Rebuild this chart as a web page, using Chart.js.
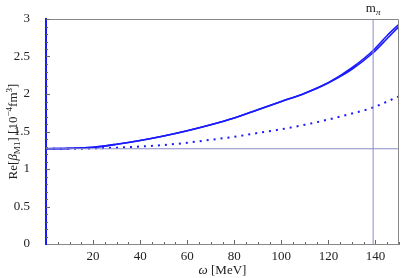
<!DOCTYPE html>
<html>
<head>
<meta charset="utf-8">
<script src="https://cdn.jsdelivr.net/npm/chart.js@4.4.1/dist/chart.umd.min.js"></script>
<style>
  html, body { margin: 0; padding: 0; background: #fff; }
  #wrap { width: 402px; height: 278px; }
</style>
</head>
<body>
<div id="wrap"><canvas id="chart"></canvas></div>
<script>
// omega [MeV]
const omega = [0, 10, 20, 30, 40, 50, 60, 70, 80, 90, 100, 110, 120, 130, 139, 145, 150];
// Re[beta_M1], solid curves (two branches separate slightly above threshold)
const betaSolidA = [1.27, 1.275, 1.29, 1.33, 1.38, 1.44, 1.51, 1.59, 1.68, 1.79, 1.90, 2.01, 2.15, 2.33, 2.55, 2.74, 2.90];
const betaSolidB = [1.27, 1.275, 1.29, 1.33, 1.38, 1.44, 1.51, 1.59, 1.68, 1.79, 1.90, 2.01, 2.15, 2.35, 2.58, 2.78, 2.93];
// dotted curve
const betaDotted = [1.27, 1.27, 1.275, 1.285, 1.30, 1.32, 1.35, 1.39, 1.43, 1.48, 1.53, 1.59, 1.66, 1.74, 1.82, 1.90, 1.97];
// static value and pion threshold
const betaStatic = 1.27;
const mPi = 139;
const xTicks = [20, 40, 60, 80, 100, 120, 140];
const yTicks = [0, 0.5, 1, 1.5, 2, 2.5, 3];

const serif = '"Liberation Serif", "DejaVu Serif", serif';
const blue = '#1a1aff';
const refColor = '#8c8cc8';

function pts (ys) {
  return omega.map((x, i) => ({ x, y: ys[i] }));
}

function richText (ctx, parts, x, y, size, align) {
  // parts: { t, italic, sub, sup }
  const widths = parts.map(p => {
    const s = (p.sub || p.sup) ? size * 0.7 : size;
    ctx.font = (p.italic ? 'italic ' : '') + s + 'px ' + serif;
    return ctx.measureText(p.t).width;
  });
  const total = widths.reduce((a, b) => a + b, 0);
  let cx = align === 'center' ? x - total / 2 : x;
  ctx.textBaseline = 'alphabetic';
  ctx.textAlign = 'left';
  parts.forEach((p, i) => {
    const s = (p.sub || p.sup) ? size * 0.7 : size;
    ctx.font = (p.italic ? 'italic ' : '') + s + 'px ' + serif;
    let dy = 0;
    if (p.sub) dy = size * 0.25;
    if (p.sup) dy = -size * 0.4;
    ctx.fillText(p.t, cx, y + dy);
    cx += widths[i];
  });
}

const decor = {
  id: 'decor',
  afterDatasetsDraw (chart) {
    const { ctx, chartArea: a, scales: { x, y } } = chart;
    ctx.save();
    // frame top / right
    ctx.strokeStyle = '#888';
    ctx.lineWidth = 1;
    ctx.beginPath();
    ctx.moveTo(a.left, a.top + 0.5);
    ctx.lineTo(a.right - 0.5, a.top + 0.5);
    ctx.lineTo(a.right - 0.5, a.bottom);
    ctx.stroke();
    // inward ticks
    ctx.strokeStyle = '#666';
    ctx.beginPath();
    for (let v = 5; v <= 150; v += 5) {
      const px = Math.round(x.getPixelForValue(v)) + 0.5;
      const len = v % 20 === 0 ? 4 : 2;
      ctx.moveTo(px, a.bottom);
      ctx.lineTo(px, a.bottom - len);
    }
    for (let k = 1; k <= 30; k++) {
      const py = Math.round(y.getPixelForValue(k / 10)) + 0.5;
      const len = k % 5 === 0 ? 4 : 2;
      ctx.moveTo(a.left, py);
      ctx.lineTo(a.left + len, py);
    }
    ctx.stroke();
    ctx.fillStyle = '#222';
    // m_pi label
    richText(ctx, [{ t: 'm' }, { t: 'π', sub: true, italic: true }], x.getPixelForValue(mPi), 12, 13, 'center');
    // x title
    richText(ctx, [{ t: 'ω', italic: true }, { t: ' [MeV]' }], (a.left + a.right) / 2, 274, 13, 'center');
    // y title
    ctx.translate(17, (a.top + a.bottom) / 2);
    ctx.rotate(-Math.PI / 2);
    richText(ctx, [
      { t: 'Re[' }, { t: 'β', italic: true }, { t: 'M1', sub: true }, { t: '] [10' },
      { t: '−4', sup: true }, { t: 'fm' }, { t: '3', sup: true }, { t: ']' }
    ], 0, 0, 13, 'center');
    ctx.restore();
  }
};

// eslint-disable-next-line no-undef
new Chart('chart', {
  type: 'line',
  data: {
    datasets: [
      { data: [{ x: 0, y: betaStatic }, { x: 150, y: betaStatic }], borderColor: refColor, borderWidth: 1 },
      { data: [{ x: mPi, y: 0 }, { x: mPi, y: 3 }], borderColor: refColor, borderWidth: 1 },
      { data: pts(betaDotted), borderColor: blue, borderWidth: 2, borderDash: [2, 5], cubicInterpolationMode: 'monotone' },
      { data: pts(betaSolidA), borderColor: blue, borderWidth: 1.6, cubicInterpolationMode: 'monotone' },
      { data: pts(betaSolidB), borderColor: blue, borderWidth: 1.6, cubicInterpolationMode: 'monotone' }
    ]
  },
  options: {
    responsive: true,
    maintainAspectRatio: false,
    animation: false,
    events: [],
    layout: { padding: { top: 19, right: 3, left: 0, bottom: 0 } },
    elements: { point: { radius: 0 } },
    plugins: { legend: { display: false }, tooltip: { enabled: false } },
    scales: {
      x: {
        type: 'linear',
        min: 0,
        max: 150,
        afterBuildTicks: s => { s.ticks = xTicks.map(value => ({ value })); },
        afterFit: s => { s.height = 34; },
        grid: { display: false },
        border: { display: true, color: '#888', width: 1 },
        ticks: { color: '#222', font: { family: serif, size: 13 }, padding: -3, maxRotation: 0 }
      },
      y: {
        min: 0,
        max: 3,
        afterBuildTicks: s => { s.ticks = yTicks.map(value => ({ value })); },
        afterFit: s => { s.width = 46; },
        grid: { display: false },
        border: { display: true, color: blue, width: 2 },
        ticks: { color: '#222', font: { family: serif, size: 13 }, padding: 8, callback: v => String(v) }
      }
    }
  },
  plugins: [decor]
});
</script>
</body>
</html>
